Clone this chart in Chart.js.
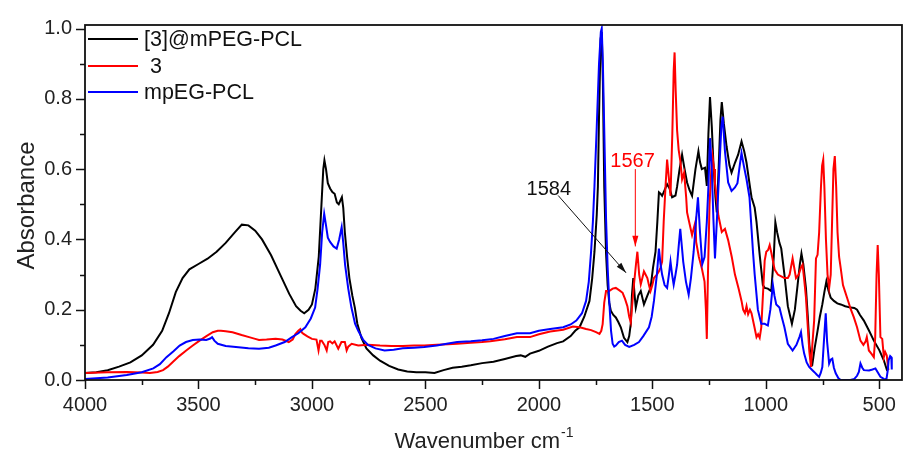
<!DOCTYPE html>
<html>
<head>
<meta charset="utf-8">
<title>FTIR spectra</title>
<script src="https://cdn.jsdelivr.net/npm/chart.js@4.4.0/dist/chart.umd.min.js"></script>
<style>
  html, body { margin: 0; padding: 0; background: #fff; }
</style>
</head>
<body>
<canvas id="myChart" width="909" height="461"></canvas>
<script>
// spectra (wavenumber, absorbance)
var wnComposite = [4000,3950,3900,3850,3800,3750,3700,3660,3630,3600,3570,3540,3500,3460,3420,3380,3340,3309,3280,3250,3220,3180,3140,3100,3070,3050,3034,3015,3000,2985,2970,2958,2950,2945,2938,2930,2920,2910,2900,2890,2882,2875,2868,2862,2855,2845,2835,2822,2811,2800,2782,2760,2730,2700,2660,2620,2580,2540,2500,2460,2420,2380,2340,2300,2250,2200,2150,2100,2080,2060,2039,2000,1960,1920,1893,1860,1840,1821,1800,1777,1765,1755,1745,1740,1735,1728,1723,1718,1712,1704,1697,1690,1683,1672,1661,1650,1639,1625,1610,1602,1595,1590,1584,1578,1573,1562,1551,1537,1522,1508,1497,1486,1478,1471,1464,1457,1446,1435,1424,1413,1398,1391,1380,1369,1358,1347,1336,1325,1310,1297,1290,1282,1268,1260,1253,1246,1238,1231,1222,1216,1208,1200,1194,1185,1173,1160,1151,1136,1122,1107,1095,1085,1070,1063,1049,1041,1027,1013,1005,991,976,965,958,950,940,932,918,903,885,872,860,850,843,835,823,815,808,800,795,785,772,762,751,742,733,724,714,700,685,670,650,627,610,598,585,568,545,524,500,480,467,460];
var absComposite = [0.02,0.022,0.028,0.038,0.05,0.07,0.1,0.14,0.19,0.25,0.29,0.315,0.33,0.345,0.365,0.39,0.42,0.442,0.44,0.425,0.4,0.355,0.3,0.245,0.21,0.197,0.19,0.2,0.215,0.26,0.35,0.5,0.6,0.625,0.6,0.56,0.545,0.535,0.53,0.505,0.5,0.51,0.52,0.49,0.42,0.35,0.29,0.24,0.206,0.16,0.12,0.09,0.07,0.055,0.04,0.03,0.024,0.022,0.022,0.02,0.028,0.035,0.038,0.042,0.048,0.052,0.06,0.068,0.07,0.066,0.075,0.083,0.095,0.105,0.11,0.125,0.14,0.15,0.18,0.225,0.29,0.365,0.47,0.55,0.75,0.97,0.99,0.85,0.55,0.36,0.27,0.22,0.197,0.185,0.178,0.165,0.15,0.12,0.108,0.125,0.16,0.24,0.29,0.24,0.206,0.24,0.253,0.215,0.24,0.262,0.32,0.365,0.45,0.534,0.53,0.524,0.54,0.557,0.545,0.52,0.525,0.55,0.6,0.641,0.6,0.562,0.54,0.524,0.6,0.651,0.62,0.6,0.604,0.552,0.7,0.805,0.72,0.618,0.52,0.477,0.6,0.74,0.791,0.73,0.665,0.61,0.59,0.618,0.641,0.679,0.65,0.618,0.55,0.52,0.49,0.45,0.356,0.27,0.262,0.26,0.253,0.35,0.449,0.42,0.39,0.374,0.3,0.21,0.16,0.2,0.27,0.33,0.36,0.33,0.26,0.18,0.1,0.05,0.045,0.09,0.14,0.18,0.215,0.25,0.281,0.255,0.234,0.225,0.218,0.215,0.21,0.206,0.205,0.2,0.185,0.169,0.14,0.112,0.085,0.056,0.03,0.035];

var wnCompound = [4000,3900,3816,3750,3714,3680,3656,3635,3612,3585,3554,3525,3495,3465,3437,3415,3401,3380,3350,3310,3277,3250,3233,3200,3160,3130,3102,3085,3073,3060,3051,3044,3037,3020,3000,2980,2971,2964,2957,2945,2935,2928,2920,2910,2900,2884,2870,2855,2847,2840,2825,2796,2753,2700,2650,2600,2550,2505,2450,2400,2360,2300,2250,2214,2150,2097,2039,2000,1950,1893,1850,1820,1792,1770,1748,1733,1725,1719,1712,1704,1690,1675,1661,1645,1631,1620,1610,1602,1595,1588,1581,1572,1566,1558,1551,1544,1537,1530,1522,1515,1508,1500,1493,1480,1471,1464,1457,1450,1442,1435,1428,1420,1412,1406,1402,1397,1391,1384,1376,1369,1360,1351,1347,1338,1325,1318,1310,1307,1295,1282,1270,1264,1260,1255,1248,1240,1235,1228,1224,1209,1194,1180,1166,1150,1136,1120,1107,1100,1092,1085,1078,1070,1063,1050,1041,1034,1027,1020,1012,1005,998,990,983,975,961,947,932,918,903,895,882,875,867,855,845,838,830,823,815,808,801,795,787,779,772,765,757,752,747,742,735,728,721,714,708,702,696,690,684,677,670,660,650,642,625,612,598,583,570,560,555,546,535,524,518,512,507,502,495,487,480,474,467,460];
var absCompound = [0.02,0.022,0.023,0.021,0.02,0.023,0.028,0.038,0.052,0.068,0.084,0.098,0.112,0.125,0.136,0.14,0.14,0.139,0.136,0.128,0.122,0.117,0.114,0.115,0.117,0.115,0.108,0.115,0.131,0.14,0.145,0.135,0.131,0.124,0.117,0.115,0.084,0.112,0.112,0.1,0.084,0.108,0.11,0.104,0.11,0.089,0.108,0.108,0.084,0.095,0.103,0.098,0.1,0.098,0.097,0.097,0.098,0.098,0.1,0.102,0.103,0.106,0.108,0.11,0.116,0.122,0.122,0.13,0.138,0.143,0.152,0.15,0.145,0.142,0.136,0.131,0.14,0.159,0.22,0.253,0.253,0.26,0.262,0.255,0.248,0.23,0.21,0.18,0.164,0.22,0.272,0.33,0.365,0.3,0.272,0.29,0.309,0.3,0.29,0.27,0.253,0.27,0.29,0.3,0.309,0.32,0.337,0.45,0.55,0.627,0.58,0.524,0.7,0.88,0.932,0.82,0.711,0.655,0.62,0.571,0.59,0.52,0.477,0.45,0.412,0.43,0.45,0.393,0.35,0.318,0.28,0.2,0.117,0.3,0.5,0.6,0.637,0.6,0.56,0.468,0.421,0.43,0.398,0.35,0.3,0.26,0.225,0.2,0.19,0.21,0.187,0.2,0.19,0.15,0.122,0.13,0.12,0.15,0.25,0.34,0.365,0.37,0.384,0.36,0.314,0.3,0.295,0.29,0.29,0.3,0.346,0.32,0.29,0.3,0.32,0.328,0.28,0.234,0.15,0.08,0.037,0.1,0.169,0.346,0.356,0.42,0.55,0.61,0.627,0.55,0.4,0.3,0.262,0.3,0.45,0.6,0.637,0.55,0.42,0.35,0.318,0.27,0.25,0.234,0.2,0.178,0.15,0.112,0.1,0.11,0.122,0.084,0.075,0.065,0.12,0.3,0.384,0.3,0.122,0.117,0.065,0.08,0.07,0.028];

var wnPolymer = [4000,3900,3816,3750,3699,3670,3641,3610,3583,3555,3525,3495,3466,3448,3440,3430,3415,3380,3335,3280,3233,3190,3160,3120,3088,3060,3029,3005,2986,2975,2964,2955,2946,2938,2930,2920,2905,2891,2880,2869,2862,2854,2840,2826,2810,2796,2775,2753,2720,2680,2640,2600,2550,2505,2450,2400,2360,2300,2250,2200,2150,2097,2039,2000,1950,1893,1860,1835,1810,1792,1780,1770,1762,1755,1745,1735,1727,1723,1718,1710,1704,1697,1690,1682,1675,1668,1661,1648,1634,1620,1602,1580,1559,1540,1515,1503,1493,1480,1471,1464,1457,1446,1435,1427,1420,1413,1406,1398,1391,1384,1377,1370,1364,1352,1340,1330,1318,1308,1299,1290,1280,1270,1260,1253,1246,1238,1231,1224,1216,1205,1196,1190,1180,1166,1151,1136,1125,1115,1107,1097,1085,1072,1063,1056,1049,1035,1020,1005,991,980,969,962,954,940,930,918,903,882,865,852,845,838,831,820,809,798,787,775,765,758,751,745,736,730,721,714,707,700,692,680,670,650,627,610,598,590,583,575,568,545,530,517,505,495,480,469,462,459,452,447,445];
var absPolymer = [0.003,0.007,0.014,0.022,0.033,0.045,0.065,0.082,0.098,0.108,0.114,0.115,0.114,0.118,0.122,0.112,0.103,0.097,0.094,0.09,0.089,0.092,0.098,0.108,0.122,0.133,0.15,0.175,0.206,0.26,0.328,0.42,0.473,0.44,0.405,0.393,0.38,0.374,0.4,0.435,0.39,0.328,0.26,0.206,0.16,0.14,0.115,0.1,0.09,0.084,0.086,0.09,0.092,0.094,0.098,0.104,0.108,0.11,0.113,0.117,0.125,0.133,0.133,0.14,0.145,0.15,0.158,0.169,0.19,0.225,0.28,0.365,0.45,0.552,0.72,0.9,0.99,1.0,0.9,0.65,0.459,0.32,0.225,0.14,0.103,0.095,0.098,0.108,0.112,0.1,0.094,0.1,0.108,0.125,0.15,0.18,0.225,0.3,0.374,0.33,0.3,0.27,0.262,0.3,0.337,0.3,0.271,0.3,0.328,0.38,0.43,0.38,0.337,0.28,0.243,0.29,0.365,0.45,0.52,0.42,0.33,0.35,0.45,0.55,0.688,0.6,0.459,0.346,0.45,0.6,0.72,0.749,0.65,0.562,0.538,0.548,0.56,0.61,0.646,0.61,0.571,0.52,0.43,0.36,0.3,0.2,0.16,0.16,0.155,0.2,0.271,0.24,0.215,0.206,0.18,0.15,0.103,0.084,0.1,0.122,0.136,0.1,0.075,0.05,0.037,0.03,0.023,0.015,0.009,0.02,0.037,0.1,0.19,0.11,0.047,0.058,0.061,0.035,0.019,0.005,0,0,0,0.003,0.012,0.023,0.047,0.035,0.028,0.027,0.03,0.033,0.02,0.009,0.003,0,0.03,0.056,0.068,0.065,0.03];

var seriesNames = ['[3]@mPEG-PCL', ' 3', 'mpEG-PCL'];
var seriesColors = ['#000000', '#ff0000', '#0000ff'];

var xTickValues = [4000, 3500, 3000, 2500, 2000, 1500, 1000, 500];
var yTickValues = [0, 0.2, 0.4, 0.6, 0.8, 1.0];

// peak labels: text, colour, label point, arrow start, arrow tip (wavenumber, absorbance)
var peakNotes = [
    { text: '1584', color: '#111111', at: [1956, 0.541], from: [1915, 0.525], to: [1616, 0.305] },
    { text: '1567', color: '#ff0000', at: [1587, 0.622], from: [1575, 0.600], to: [1575, 0.380] }
];

var FONT = '"Liberation Sans", Arial, Helvetica, sans-serif';

function toPoints(xs, ys) {
    return xs.map(function (x, i) { return { x: x, y: ys[i] }; });
}

// frame, minor/major ticks, titles, legend and peak arrows
var decorations = {
    id: 'decorations',
    afterDatasetsDraw: function (chart) {
        var ctx = chart.ctx;
        var area = chart.chartArea;
        var xs = chart.scales.x, ys = chart.scales.y;
        ctx.save();

        // ticks
        ctx.strokeStyle = '#111';
        ctx.lineWidth = 1.5;
        ctx.beginPath();
        for (var i = 0; i < xTickValues.length; i++) {
            var v = xTickValues[i];
            var px = Math.round(xs.getPixelForValue(v)) + 0.5;
            ctx.moveTo(px, area.bottom); ctx.lineTo(px, area.bottom + 9);
            if (i < xTickValues.length - 1) {
                var mx = Math.round(xs.getPixelForValue(v - 250)) + 0.5;
                ctx.moveTo(mx, area.bottom); ctx.lineTo(mx, area.bottom + 5);
            }
        }
        for (var j = 0; j < yTickValues.length; j++) {
            var w = yTickValues[j];
            var py = Math.round(ys.getPixelForValue(w)) + 0.5;
            ctx.moveTo(area.left, py); ctx.lineTo(area.left - 9, py);
            if (j < yTickValues.length - 1) {
                var my = Math.round(ys.getPixelForValue(w + 0.1)) + 0.5;
                ctx.moveTo(area.left, my); ctx.lineTo(area.left - 5, my);
            }
        }
        ctx.stroke();

        // frame
        ctx.lineWidth = 1.8;
        ctx.strokeRect(area.left, area.top, area.right - area.left, area.bottom - area.top);

        // legend
        ctx.font = '21.5px ' + FONT;
        ctx.textBaseline = 'middle';
        ctx.textAlign = 'left';
        var legendY = [39, 66, 92];
        for (var k = 0; k < seriesNames.length; k++) {
            ctx.strokeStyle = seriesColors[k];
            ctx.lineWidth = 2;
            ctx.beginPath();
            ctx.moveTo(88, legendY[k]); ctx.lineTo(138, legendY[k]);
            ctx.stroke();
            ctx.fillStyle = '#111';
            ctx.fillText(seriesNames[k], 144, legendY[k] + 1.5);
        }

        // peak notes
        ctx.font = '20px ' + FONT;
        ctx.textAlign = 'center';
        peakNotes.forEach(function (n) {
            var tx = xs.getPixelForValue(n.at[0]), ty = ys.getPixelForValue(n.at[1]);
            var x0 = xs.getPixelForValue(n.from[0]), y0 = ys.getPixelForValue(n.from[1]);
            var x1 = xs.getPixelForValue(n.to[0]), y1 = ys.getPixelForValue(n.to[1]);
            ctx.fillStyle = n.color;
            ctx.fillText(n.text, tx, ty);
            ctx.strokeStyle = n.color;
            ctx.lineWidth = 1;
            ctx.beginPath();
            ctx.moveTo(x0, y0); ctx.lineTo(x1, y1);
            ctx.stroke();
            var ang = Math.atan2(y1 - y0, x1 - x0);
            ctx.beginPath();
            ctx.moveTo(x1, y1);
            ctx.lineTo(x1 - 11 * Math.cos(ang - 0.28), y1 - 11 * Math.sin(ang - 0.28));
            ctx.lineTo(x1 - 11 * Math.cos(ang + 0.28), y1 - 11 * Math.sin(ang + 0.28));
            ctx.closePath();
            ctx.fill();
        });

        // axis titles
        ctx.fillStyle = '#222';
        ctx.save();
        ctx.translate(27, (area.top + area.bottom) / 2 + 3);
        ctx.rotate(-Math.PI / 2);
        ctx.font = '24px ' + FONT;
        ctx.textAlign = 'center';
        ctx.fillText('Absorbance', 0, 0);
        ctx.restore();

        ctx.textAlign = 'left';
        ctx.textBaseline = 'alphabetic';
        ctx.font = '22px ' + FONT;
        var main = 'Wavenumber cm';
        var mw = ctx.measureText(main).width;
        ctx.font = '14px ' + FONT;
        var sw = ctx.measureText('-1').width;
        var sx = 484 - (mw + sw + 1) / 2;
        ctx.font = '22px ' + FONT;
        ctx.fillText(main, sx, 448);
        ctx.font = '14px ' + FONT;
        ctx.fillText('-1', sx + mw + 1, 437);

        ctx.restore();
    }
};

var ctx = document.getElementById('myChart').getContext('2d');
var chart = new Chart(ctx, {
    type: 'line',
    data: {
        datasets: [{
            label: seriesNames[0],
            data: toPoints(wnComposite, absComposite),
            borderColor: seriesColors[0],
            order: 2
        }, {
            label: seriesNames[1],
            data: toPoints(wnCompound, absCompound),
            borderColor: seriesColors[1],
            order: 1
        }, {
            label: seriesNames[2],
            data: toPoints(wnPolymer, absPolymer),
            borderColor: seriesColors[2],
            order: 0
        }]
    },
    options: {
        responsive: false,
        animation: false,
        devicePixelRatio: 1,
        elements: {
            point: { radius: 0 },
            line: { borderWidth: 2, tension: 0, fill: false }
        },
        layout: { padding: { top: 21, right: 1, bottom: 0, left: 0 } },
        plugins: {
            legend: { display: false },
            tooltip: { enabled: false }
        },
        scales: {
            x: {
                type: 'linear',
                reverse: true,
                min: 400,
                max: 4000,
                afterBuildTicks: function (s) { s.ticks = xTickValues.map(function (v) { return { value: v }; }); },
                afterFit: function (s) { s.height = 81; },
                grid: { display: false, drawTicks: false },
                border: { display: false },
                ticks: {
                    padding: 13,
                    color: '#222',
                    font: { family: FONT, size: 20 },
                    maxRotation: 0,
                    autoSkip: false,
                    callback: function (v) { return String(v); }
                }
            },
            y: {
                min: 0,
                max: 1.01,
                afterBuildTicks: function (s) { s.ticks = yTickValues.map(function (v) { return { value: v }; }); },
                afterFit: function (s) { s.width = 85; },
                grid: { display: false, drawTicks: false },
                border: { display: false },
                ticks: {
                    padding: 13,
                    color: '#222',
                    font: { family: FONT, size: 20 },
                    callback: function (v) { return v.toFixed(1); }
                }
            }
        }
    },
    plugins: [decorations]
});
</script>
</body>
</html>
